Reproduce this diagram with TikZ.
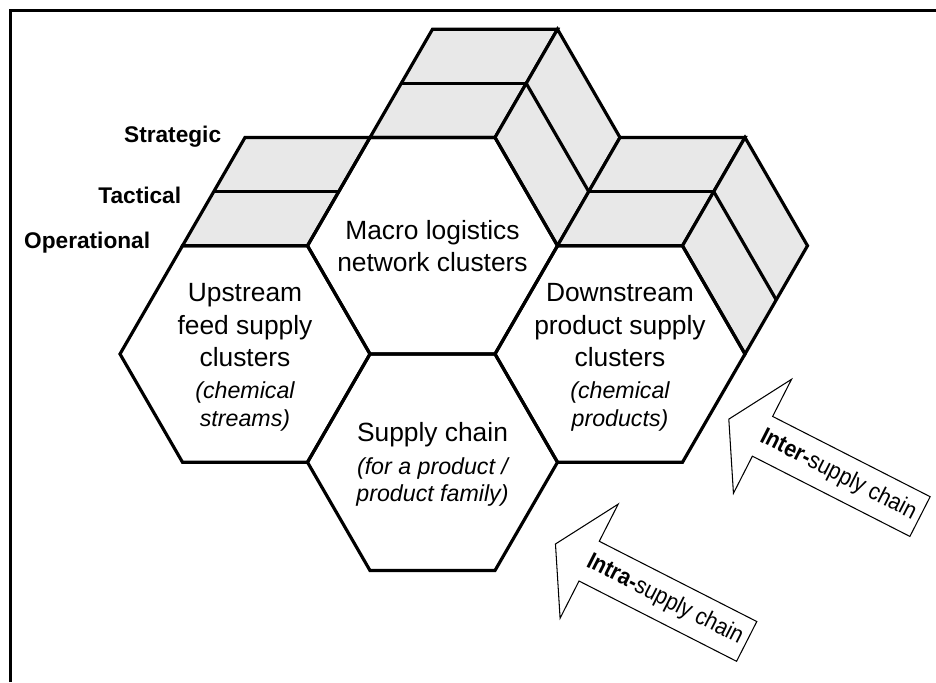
\documentclass[tikz,border=0pt]{standalone}
\usepackage{fontspec}
\setmainfont{Liberation Sans}
\newfontfamily\narrowsans[FakeStretch=0.9]{Liberation Sans}
\usepackage{xcolor}
\usepackage{tikz}
\usetikzlibrary{calc}
\usetikzlibrary{positioning}

\definecolor{layergray}{HTML}{E8E8E8}
\newcommand{\hexnote}[1]{{\itshape\fontsize{13.2}{15.6}\selectfont #1}}

\begin{document}
\begin{tikzpicture}[
    edge/.style={line width=1.8pt},
    layer/.style={edge, fill=layergray},
    hexlabel/.style={align=center, font=\fontsize{15}{18.4}\selectfont},
    level/.style={anchor=east, inner sep=0pt,
      font=\bfseries\fontsize{12.9}{15}\selectfont},
    flowarrow/.style={line width=0.6pt, fill=white},
    arrowlabel/.style={inner sep=0pt,
      font=\narrowsans\fontsize{13.5}{16}\selectfont}]

  \useasboundingbox (0, 0) rectangle (18.72, 13.64);
  \draw [edge] (0.21, 0) -- (0.21, 13.43) -- (18.72, 13.43);

  % hexagon centres
  \coordinate (U) at (4.9, 6.56);
  \coordinate (M) at ($(U)+(30:4.33)$);
  \coordinate (S) at ($(U)+(-30:4.33)$);
  \coordinate (D) at ($(U)+(7.5, 0)$);

  \foreach \h in {U, M, S, D}
    \foreach \k in {0,...,5}
      \coordinate (\h\k) at ($(\h)+(\k*60:2.5)$);

  % planning layers
  \foreach \a/\b in {U2/U1, M2/M1, M1/M0, D2/D1, D1/D0} {
    \filldraw [layer] (\a) -- (\b) -- ($(\b)+(60:2.5)$)
    -- ($(\a)+(60:2.5)$) -- cycle;
    \draw [edge] ($(\a)+(60:1.25)$) -- ($(\b)+(60:1.25)$);
  }

  \foreach \h in {U, M, S, D}
    \draw [edge] (\h0) -- (\h1) -- (\h2) -- (\h3) -- (\h4) -- (\h5) -- cycle;

  \node [level] (strategic) at (4.43, 10.91) {Strategic};
  \node [level] (tactical) at (3.63, 9.74) {Tactical};
  \node [level] (operational) at (3.01, 8.78) {Operational};

  \node [hexlabel] (upstream) at ($(U)+(0, -0.07)$) {Upstream\\feed supply\\
    clusters\\\hexnote{(chemical}\\[-2.5pt]\hexnote{streams)}};
  \node [hexlabel] (macro) at (M) {Macro logistics\\network clusters};
  \node [hexlabel] (chain) at ($(S)+(0, -0.04)$) {Supply chain\\
    \hexnote{(for a product /}\\[-3pt]\hexnote{product family)}};
  \node [hexlabel] (downstream) at ($(D)+(0, -0.07)$) {Downstream\\
    product supply\\clusters\\
    \hexnote{(chemical}\\[-2.5pt]\hexnote{products)}};

  \foreach \ax/\ay/\arrname/\arrtext in
    {15.25/4.914/inter/Inter, 11.783/2.417/intra/Intra} {
    \begin{scope}[shift={(\ax, \ay)}, rotate=-27]
      \draw [flowarrow] (-0.756, 0) -- (0, 1.28) -- (0, 0.446)
      -- (3.536, 0.446) -- (3.536, -0.446) -- (0, -0.446)
      -- (0, -1.28) -- cycle;
      \node [arrowlabel, transform shape] (\arrname) at (1.7, 0)
      {\textbf{\arrtext-}supply chain};
    \end{scope}
  }

\end{tikzpicture}
\end{document}
